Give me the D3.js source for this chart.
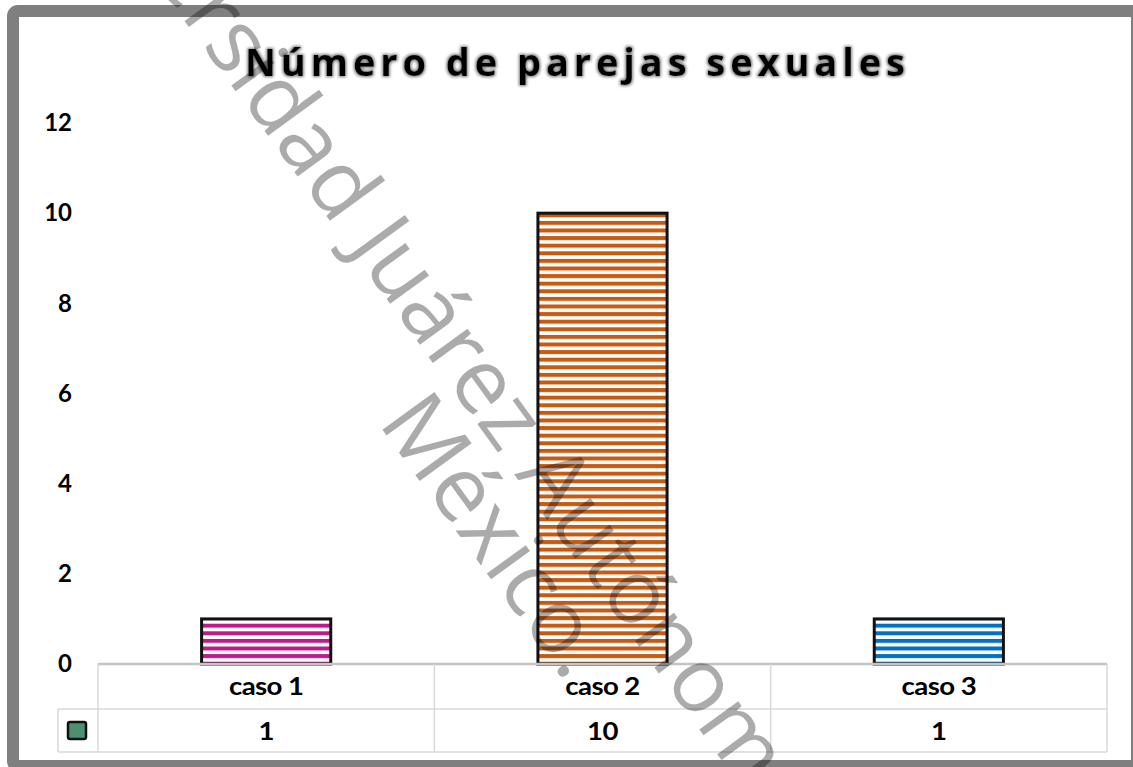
<!DOCTYPE html>
<html>
<head>
<meta charset="utf-8">
<script src="https://cdn.jsdelivr.net/npm/d3@7"></script>
<style>
  html, body { margin: 0; padding: 0; background: #fff; }
  svg { display: block; }
</style>
</head>
<body>
<div id="chart"></div>
<script>
(function () {
  'use strict';

  // chart data
  var categories = ['caso 1', 'caso 2', 'caso 3'];
  var values = [1, 10, 1];
  var yTicks = [0, 2, 4, 6, 8, 10, 12];
  var barColors = ['#bd1a8b', '#c55a11', '#0070c0'];
  var title = 'Número de parejas sexuales';
  var watermark = ['Universidad Juárez Autónoma de Tabasco.', 'México.'];

  var width = 1133,
    height = 767;

  var svg = d3.select('#chart').append('svg')
    .attr('width', width)
    .attr('height', height);

  var defs = svg.append('defs');

  // striped fills, one per bar
  barColors.forEach(function (c, i) {
    var p = defs.append('pattern')
      .attr('id', 'stripe' + i)
      .attr('patternUnits', 'userSpaceOnUse')
      .attr('width', 10)
      .attr('height', 7.6)
      .attr('y', 0.5);
    p.append('rect').attr('width', 10).attr('height', 7.6).attr('fill', '#fff');
    p.append('rect').attr('width', 10).attr('height', 4).attr('fill', c);
  });

  var glow = defs.append('filter').attr('id', 'glow')
    .attr('x', '-5%').attr('y', '-20%').attr('width', '110%').attr('height', '140%');
  glow.append('feMorphology').attr('in', 'SourceAlpha').attr('operator', 'dilate').attr('radius', 1).attr('result', 'd');
  glow.append('feGaussianBlur').attr('in', 'd').attr('stdDeviation', 1.6).attr('result', 'b');
  glow.append('feFlood').attr('flood-color', '#777').attr('result', 'f');
  glow.append('feComposite').attr('in', 'f').attr('in2', 'b').attr('operator', 'in').attr('result', 's');
  var merge = glow.append('feMerge');
  merge.append('feMergeNode').attr('in', 's');
  merge.append('feMergeNode').attr('in', 'SourceGraphic');

  // outer frame
  svg.append('rect')
    .attr('x', 13).attr('y', 11)
    .attr('width', 1124).attr('height', 755)
    .attr('rx', 5)
    .attr('fill', '#fff')
    .attr('stroke', '#7f7f7f')
    .attr('stroke-width', 12);

  var plotLeft = 98, plotRight = 1107;
  var rowTop = 664, rowMid = 709, rowBottom = 752;
  var keyLeft = 58;

  var x = d3.scaleBand()
    .domain(categories)
    .range([plotLeft, plotRight])
    .paddingInner(0.616)
    .paddingOuter(0.308);

  var y = d3.scaleLinear()
    .domain([0, 12])
    .range([rowTop, 123]);

  // title
  var t = svg.append('text')
    .attr('x', 575)
    .attr('y', 76)
    .attr('text-anchor', 'middle')
    .attr('font-family', '"Open Sans", sans-serif')
    .attr('font-weight', 700)
    .attr('font-size', 38)
    .attr('fill', '#000')
    .attr('filter', 'url(#glow)')
    .text(title);
  var natural = t.node().getComputedTextLength();
  var ls = (660 - natural) / (title.length - 1);
  t.attr('letter-spacing', ls).attr('x', 575 + ls / 2);

  // y axis labels
  var yAxis = d3.axisLeft(y).tickValues(yTicks).tickSize(0).tickPadding(0);
  var ya = svg.append('g')
    .attr('transform', 'translate(72,0)')
    .call(yAxis);
  ya.select('.domain').remove();
  ya.selectAll('text')
    .attr('font-family', 'Lato, sans-serif')
    .attr('font-weight', 700)
    .attr('font-size', 24)
    .attr('fill', '#000');

  // bars
  svg.append('g').selectAll('rect')
    .data(values)
    .enter()
    .append('rect')
    .attr('x', function (d, i) { return x(categories[i]); })
    .attr('y', function (d) { return y(d); })
    .attr('width', x.bandwidth())
    .attr('height', function (d) { return y(0) - y(d); })
    .attr('fill', function (d, i) { return 'url(#stripe' + i + ')'; })
    .attr('stroke', '#111')
    .attr('stroke-width', 3);

  // data table grid
  var grid = svg.append('g')
    .attr('stroke', '#d9d9d9')
    .attr('stroke-width', 1.5)
    .attr('fill', 'none');
  grid.append('line').attr('x1', plotLeft).attr('x2', plotRight).attr('y1', rowTop).attr('y2', rowTop)
    .attr('stroke', '#c4c4c4').attr('stroke-width', 2.5);
  grid.append('line').attr('x1', keyLeft).attr('x2', plotRight).attr('y1', rowMid).attr('y2', rowMid);
  grid.append('line').attr('x1', keyLeft).attr('x2', plotRight).attr('y1', rowBottom).attr('y2', rowBottom);
  grid.append('line').attr('x1', keyLeft).attr('x2', keyLeft).attr('y1', rowMid).attr('y2', rowBottom);
  var edges = [plotLeft].concat(categories.map(function (c) { return x(c) - x.step() * x.paddingInner() / 2 + x.step(); }));
  grid.selectAll('line.v')
    .data(edges)
    .enter()
    .append('line')
    .attr('class', 'v')
    .attr('x1', function (d) { return d; })
    .attr('x2', function (d) { return d; })
    .attr('y1', rowTop)
    .attr('y2', rowBottom);

  var labelStyle = function (sel) {
    sel.attr('text-anchor', 'middle')
      .attr('font-family', 'Lato, sans-serif')
      .attr('font-weight', 700)
      .attr('font-size', 24)
      .attr('letter-spacing', -0.5)
      .attr('fill', '#000');
  };

  svg.append('g').selectAll('text')
    .data(categories)
    .enter()
    .append('text')
    .attr('transform', function (d) {
      return 'translate(' + (x(d) + x.bandwidth() / 2) + ',695) scale(1.15,1)';
    })
    .text(function (d) { return d; })
    .call(labelStyle);

  svg.append('g').selectAll('text')
    .data(values)
    .enter()
    .append('text')
    .attr('transform', function (d, i) {
      return 'translate(' + (x(categories[i]) + x.bandwidth() / 2) + ',740) scale(1.15,1)';
    })
    .text(function (d) { return d; })
    .call(labelStyle);

  // legend key
  svg.append('rect')
    .attr('x', 68).attr('y', 722)
    .attr('width', 18).attr('height', 17)
    .attr('rx', 2)
    .attr('fill', '#4e8f70')
    .attr('stroke', '#111')
    .attr('stroke-width', 2.5);

  // watermark, two lines running diagonally across the chart
  var wmSize = 90;
  var ang = 54 * Math.PI / 180;
  var dir = [Math.cos(ang), Math.sin(ang)];
  var wmGroup = svg.append('g')
    .attr('font-family', '"Open Sans", sans-serif')
    .attr('font-size', wmSize)
    .attr('fill', '#000')
    .attr('fill-opacity', 0.33);

  var w1 = wmGroup.append('text').text(watermark[0]);
  var toJ = w1.node().getSubStringLength(0, 12);
  var p1 = [348 - dir[0] * toJ, 246 - dir[1] * toJ];
  w1.attr('transform', 'translate(' + p1[0] + ',' + p1[1] + ') rotate(54)');

  wmGroup.append('text')
    .attr('text-anchor', 'middle')
    .attr('transform', 'translate(472,553) rotate(54)')
    .text(watermark[1]);
})();
</script>
</body>
</html>
